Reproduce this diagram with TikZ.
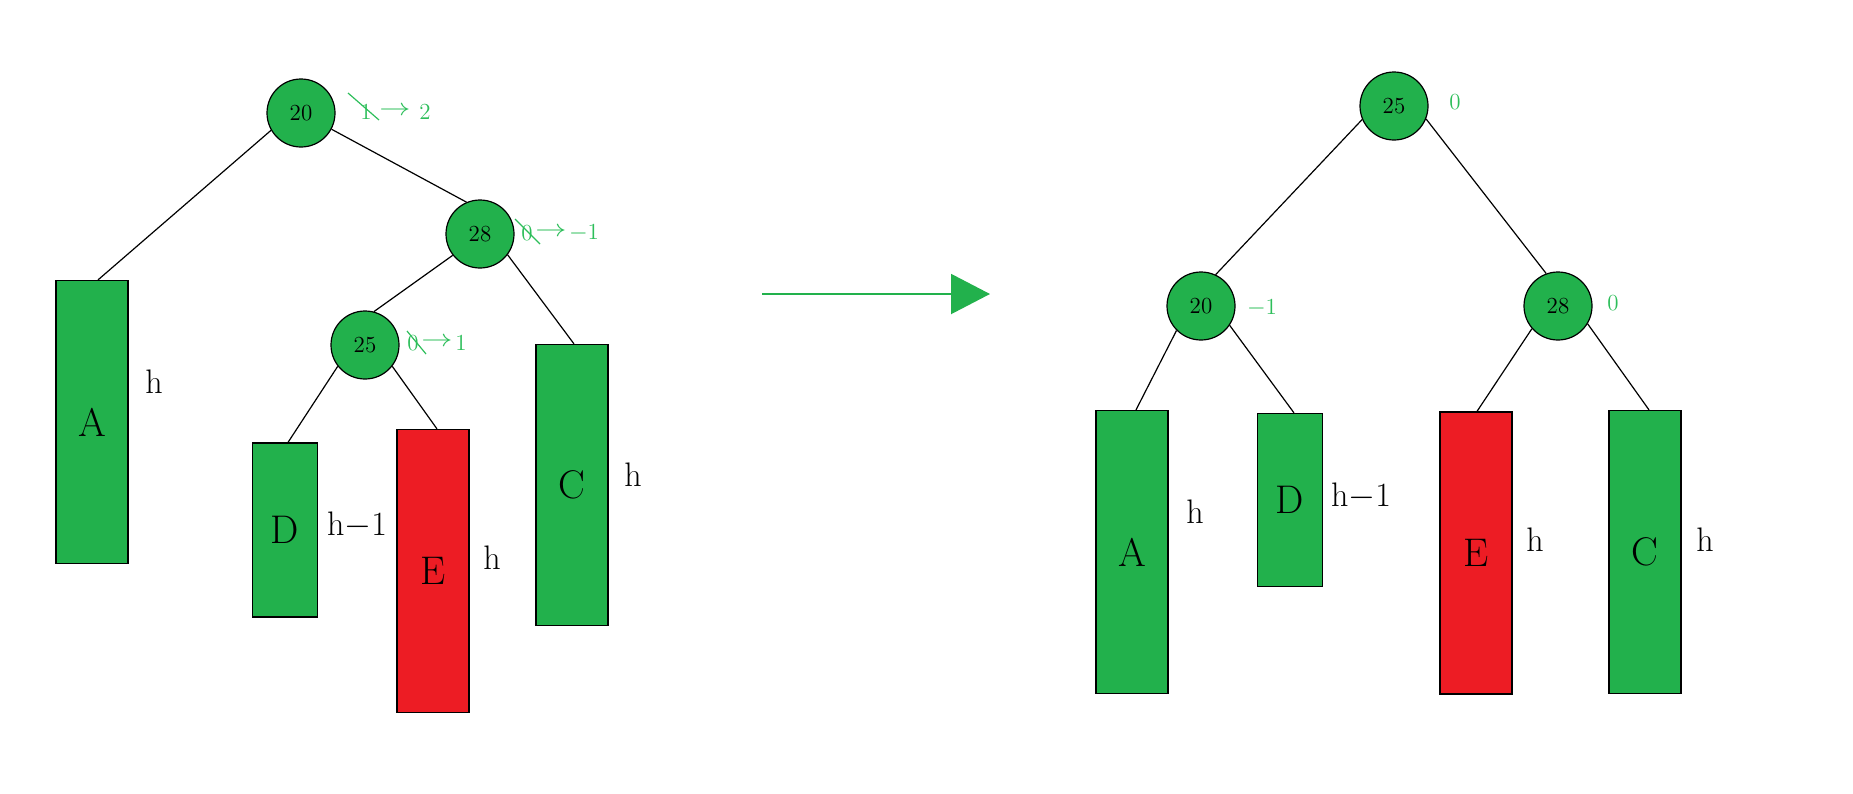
\documentclass[tikz,border=0pt]{standalone}
\usetikzlibrary{arrows.meta}
\definecolor{pgreen}{HTML}{22B14C}
\definecolor{pred}{HTML}{ED1C24}
\definecolor{lgreen}{HTML}{2DBE5A}
\newcommand{\balarrow}{\scalebox{1.3}[1]{$\rightarrow$}}
\begin{document}
\begin{tikzpicture}[x=0.5pt,y=-0.5pt,
  tnode/.style={circle,draw=black,line width=0.6pt,fill=pgreen,minimum size=34pt,inner sep=0pt,font=\fontsize{11.5}{13}\selectfont},
  sub/.style={draw=black,line width=0.6pt,minimum width=36pt,inner sep=0pt,font=\fontsize{20}{22}\selectfont},
  hlab/.style={font=\fontsize{17}{19}\selectfont,inner sep=0pt},
  bal/.style={text=lgreen,font=\fontsize{11.5}{13}\selectfont,inner sep=0pt},
  strike/.style={draw=lgreen,line width=0.6pt},
  edge/.style={draw=black,line width=0.6pt}]
\useasboundingbox (0,0) rectangle (1853,793);
% ---------- left tree ----------
\node[tnode] (L20) at (301,113) {20};
\node[tnode] (L28) at (480,234) {28};
\node[tnode] (L25) at (365,345) {25};
\node[sub,fill=pgreen,minimum height=141.5pt] (LA) at (92,422) {A};
\node[sub,fill=pgreen,minimum height=87pt,minimum width=32.5pt] (LD) at (285,530) {D};
\node[sub,fill=pred,minimum height=141.5pt] (LE) at (433,571) {E};
\node[sub,fill=pgreen,minimum height=140.5pt] (LC) at (572,485) {C};
\node[hlab] (LhA) at (154,382) {h};
\node[hlab] (LhD) at (357,525) {h$-$1};
\node[hlab] (LhE) at (492,558) {h};
\node[hlab] (LhC) at (633,475) {h};
\draw[edge] (L20.210) -- ([xshift=3pt]LA.north);
\draw[edge] (L20.-28) -- (L28.113);
\draw[edge] (L28.218) -- (L25.75);
\draw[edge] (L28.-37) -- ([xshift=1pt]LC.north);
\draw[edge] (L25.218) -- ([xshift=1.5pt]LD.north);
\draw[edge] (L25.-38) -- ([xshift=2pt]LE.north);
% balance labels left
\node[bal] (b20a) at (366,112) {1};
\node[bal] (b20b) at (395,111) {\balarrow};
\node[bal] (b20c) at (425,112) {2};
\draw[strike] (348,93) -- (379,120);
\node[bal] (b28a) at (527,233) {0};
\node[bal] (b28b) at (551,232) {\balarrow};
\node[bal] (b28c) at (584,233) {$-$1};
\draw[strike] (515,219) -- (540,244);
\node[bal] (b25a) at (413,343) {0};
\node[bal] (b25b) at (437,342) {\balarrow};
\node[bal] (b25c) at (461,343) {1};
\draw[strike] (407,331) -- (426,354);
% ---------- arrow ----------
\coordinate (arS) at (762,294);
\coordinate (arE) at (990,294);
\draw[draw=pgreen,line width=1pt,-{Triangle[length=19.5pt,width=20pt]}] (arS) -- (arE);
% ---------- right tree ----------
\node[tnode] (R25) at (1394,106) {25};
\node[tnode] (R20) at (1201,306) {20};
\node[tnode] (R28) at (1558,306) {28};
\node[sub,fill=pgreen,minimum height=141.5pt] (RA) at (1132,552) {A};
\node[sub,fill=pgreen,minimum height=86.5pt,minimum width=32.5pt] (RD) at (1290,500) {D};
\node[sub,fill=pred,minimum height=141pt] (RE) at (1476,553) {E};
\node[sub,fill=pgreen,minimum height=141.5pt] (RC) at (1645,552) {C};
\node[hlab] (RhA) at (1195,512) {h};
\node[hlab] (RhD) at (1361,496) {h$-$1};
\node[hlab] (RhE) at (1535,540) {h};
\node[hlab] (RhC) at (1705,540) {h};
\draw[edge] (R25.203) -- (R20.65);
\draw[edge] (R25.-22) -- (R28.110);
\draw[edge] (R20.225) -- ([xshift=2pt]RA.north);
\draw[edge] (R20.-34) -- ([xshift=2pt]RD.north);
\draw[edge] (R28.221) -- ([xshift=0.5pt]RE.north);
\draw[edge] (R28.-31) -- ([xshift=2pt]RC.north);
\node[bal] (r25) at (1455,102) {0};
\node[bal] (r20) at (1262,308) {$-$1};
\node[bal] (r28) at (1613,303) {0};
\end{tikzpicture}
\end{document}
